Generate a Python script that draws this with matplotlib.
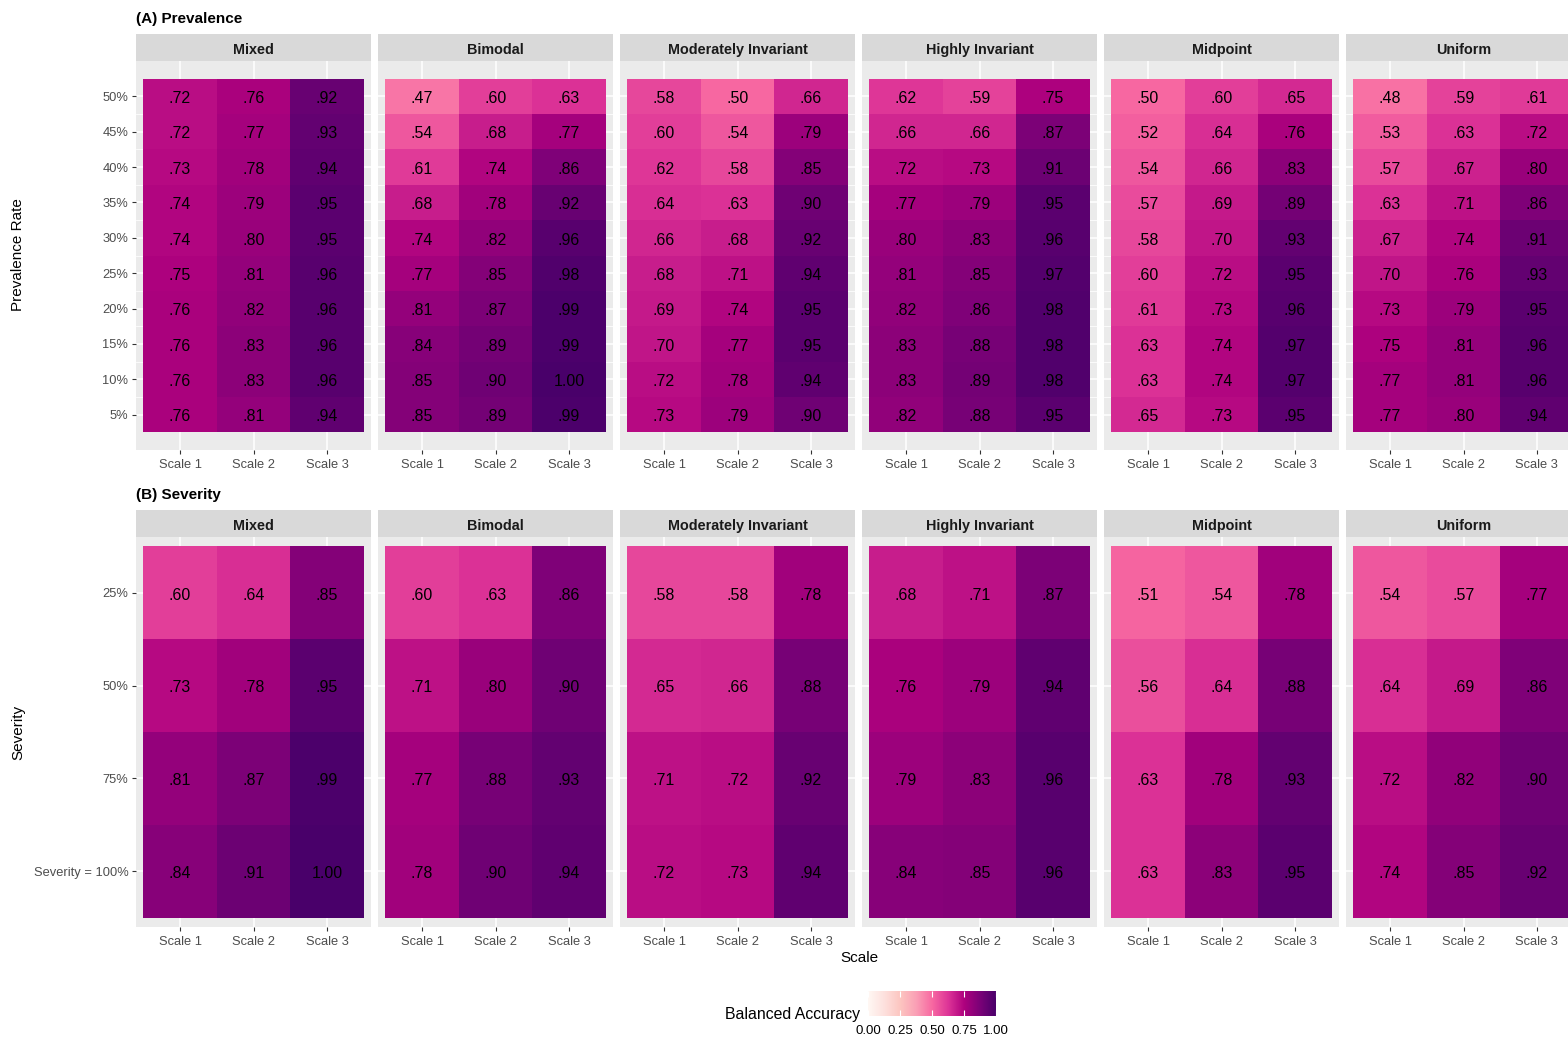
import numpy as np
import matplotlib
matplotlib.use('Agg')
from matplotlib import pyplot as plt
from matplotlib.colors import LinearSegmentedColormap, Normalize
from matplotlib.cm import ScalarMappable

plt.rcParams['font.family'] = ['Liberation Sans', 'DejaVu Sans']

distributions = ['Mixed', 'Bimodal', 'Moderately Invariant', 'Highly Invariant', 'Midpoint', 'Uniform']
scales = ['Scale 1', 'Scale 2', 'Scale 3']

# prevalence rates, listed top row first
prevalence = [50, 45, 40, 35, 30, 25, 20, 15, 10, 5]
prevalence_labels = ['50%', '45%', '40%', '35%', '30%', '25%', '20%', '15%', '10%', '5%']
severity_labels = ['25%', '50%', '75%', 'Severity = 100%']

# balanced accuracy by prevalence (rows 50% .. 5%, columns Scale 1..3)
prev_mixed = [[.72, .76, .92], [.72, .77, .93], [.73, .78, .94], [.74, .79, .95], [.74, .80, .95],
              [.75, .81, .96], [.76, .82, .96], [.76, .83, .96], [.76, .83, .96], [.76, .81, .94]]
prev_bimodal = [[.47, .60, .63], [.54, .68, .77], [.61, .74, .86], [.68, .78, .92], [.74, .82, .96],
                [.77, .85, .98], [.81, .87, .99], [.84, .89, .99], [.85, .90, 1.00], [.85, .89, .99]]
prev_moderate = [[.58, .50, .66], [.60, .54, .79], [.62, .58, .85], [.64, .63, .90], [.66, .68, .92],
                 [.68, .71, .94], [.69, .74, .95], [.70, .77, .95], [.72, .78, .94], [.73, .79, .90]]
prev_highly = [[.62, .59, .75], [.66, .66, .87], [.72, .73, .91], [.77, .79, .95], [.80, .83, .96],
               [.81, .85, .97], [.82, .86, .98], [.83, .88, .98], [.83, .89, .98], [.82, .88, .95]]
prev_midpoint = [[.50, .60, .65], [.52, .64, .76], [.54, .66, .83], [.57, .69, .89], [.58, .70, .93],
                 [.60, .72, .95], [.61, .73, .96], [.63, .74, .97], [.63, .74, .97], [.65, .73, .95]]
prev_uniform = [[.48, .59, .61], [.53, .63, .72], [.57, .67, .80], [.63, .71, .86], [.67, .74, .91],
                [.70, .76, .93], [.73, .79, .95], [.75, .81, .96], [.77, .81, .96], [.77, .80, .94]]

# balanced accuracy by severity (rows 25% .. 100%)
sev_mixed = [[.60, .64, .85], [.73, .78, .95], [.81, .87, .99], [.84, .91, 1.00]]
sev_bimodal = [[.60, .63, .86], [.71, .80, .90], [.77, .88, .93], [.78, .90, .94]]
sev_moderate = [[.58, .58, .78], [.65, .66, .88], [.71, .72, .92], [.72, .73, .94]]
sev_highly = [[.68, .71, .87], [.76, .79, .94], [.79, .83, .96], [.84, .85, .96]]
sev_midpoint = [[.51, .54, .78], [.56, .64, .88], [.63, .78, .93], [.63, .83, .95]]
sev_uniform = [[.54, .57, .77], [.64, .69, .86], [.72, .82, .90], [.74, .85, .92]]

prev_data = [prev_mixed, prev_bimodal, prev_moderate, prev_highly, prev_midpoint, prev_uniform]
sev_data = [sev_mixed, sev_bimodal, sev_moderate, sev_highly, sev_midpoint, sev_uniform]

rdpu = ['#fff7f3', '#fde0dd', '#fcc5c0', '#fa9fb5', '#f768a1', '#dd3497', '#ae017e', '#7a0177', '#49006a']
cmap = LinearSegmentedColormap.from_list('rdpu', rdpu)
norm = Normalize(0, 1)

W, H = 1568, 1037
fig = plt.figure(figsize=(W / 100, H / 100), dpi=100)


def box(x0, y0, w, h):
    return [x0 / W, 1 - (y0 + h) / H, w / W, h / H]


def fmt(v):
    s = '%.2f' % v
    return s[1:] if s.startswith('0') else s


def style_axis(ax, first):
    ax.set_facecolor('#EBEBEB')
    for sp in ax.spines.values():
        sp.set_visible(False)
    ax.set_axisbelow(True)
    ax.grid(which='major', color='white', lw=1.1)
    ax.grid(which='minor', axis='y', color='white', lw=0.55)
    ax.tick_params(which='major', length=3, width=0.8, color='#333333',
                   labelcolor='#4D4D4D', labelsize=9.3, pad=2.5)
    ax.tick_params(axis='x', pad=3.2)
    ax.tick_params(which='minor', length=0)
    if not first:
        ax.tick_params(left=False, labelleft=False)


def draw_strip(x0, y0, name):
    s = fig.add_axes(box(x0, y0, 235, 27))
    s.set_facecolor('#D9D9D9')
    s.set_xticks([])
    s.set_yticks([])
    for sp in s.spines.values():
        sp.set_visible(False)
    s.text(0.5, 0.47, name, ha='center', va='center_baseline', fontsize=10.4,
           fontweight='bold', color='#1A1A1A', transform=s.transAxes)


def cell_text(ax, x, y, v):
    ax.text(x, y, fmt(v), ha='center', va='center_baseline', fontsize=11.5, color='black')


x_edges = np.arange(4) - 0.5

for k, name in enumerate(distributions):
    x0 = 136 + k * 242

    # prevalence panel: continuous y axis
    ax = fig.add_axes(box(x0, 61, 235, 389))
    z = np.flipud(np.array(prev_data[k]))
    y_vals = np.array(prevalence[::-1])
    y_edges = np.append(y_vals - 2.5, y_vals[-1] + 2.5)
    ax.pcolormesh(x_edges, y_edges, z, cmap=cmap, norm=norm, antialiased=False)
    for i, y in enumerate(y_vals):
        for j in range(3):
            cell_text(ax, j, y - 0.1, z[i, j])
    ax.set_xlim(-0.6, 2.6)
    ax.set_ylim(0, 55)
    ax.set_xticks(range(3))
    ax.set_xticklabels(scales)
    ax.set_yticks(prevalence)
    ax.set_yticklabels(prevalence_labels)
    ax.set_yticks(np.arange(7.5, 50, 5), minor=True)
    style_axis(ax, k == 0)
    draw_strip(x0, 34, name)

    # severity panel: discrete y axis
    ax = fig.add_axes(box(x0, 537, 235, 390))
    z = np.flipud(np.array(sev_data[k]))
    ax.pcolormesh(x_edges, np.arange(5) - 0.5, z, cmap=cmap, norm=norm, antialiased=False)
    for i in range(4):
        for j in range(3):
            cell_text(ax, j, i - 0.01, z[i, j])
    ax.set_xlim(-0.6, 2.6)
    ax.set_ylim(-0.6, 3.6)
    ax.set_xticks(range(3))
    ax.set_xticklabels(scales)
    ax.set_yticks(range(4))
    ax.set_yticklabels(severity_labels[::-1])
    style_axis(ax, k == 0)
    draw_strip(x0, 510, name)

fig.text(136 / W, 1 - 17 / H, '(A) Prevalence', fontsize=11, fontweight='bold', va='center_baseline')
fig.text(136 / W, 1 - 494 / H, '(B) Severity', fontsize=11, fontweight='bold', va='center_baseline')
fig.text(18 / W, 1 - 255 / H, 'Prevalence Rate', rotation=90, fontsize=11, ha='center', va='center')
fig.text(18 / W, 1 - 732 / H, 'Severity', rotation=90, fontsize=11, ha='center', va='center')
fig.text(859 / W, 1 - 958 / H, 'Scale', fontsize=11, ha='center', va='center')

# colour bar legend
cax = fig.add_axes(box(868, 991, 128, 25))
cb = fig.colorbar(ScalarMappable(norm=norm, cmap=cmap), cax=cax, orientation='horizontal')
cb.outline.set_visible(False)
cb.set_ticks([0, 0.25, 0.5, 0.75, 1])
cb.set_ticklabels(['0.00', '0.25', '0.50', '0.75', '1.00'])
cax.tick_params(direction='in', color='white', length=4, width=0.8, top=True, bottom=True,
                labelsize=9.5, labelcolor='black', pad=6.5)
fig.text(860 / W, 1 - 1015 / H, 'Balanced Accuracy', fontsize=11.4, ha='right', va='center')

fig.savefig('out.png', dpi=100)
